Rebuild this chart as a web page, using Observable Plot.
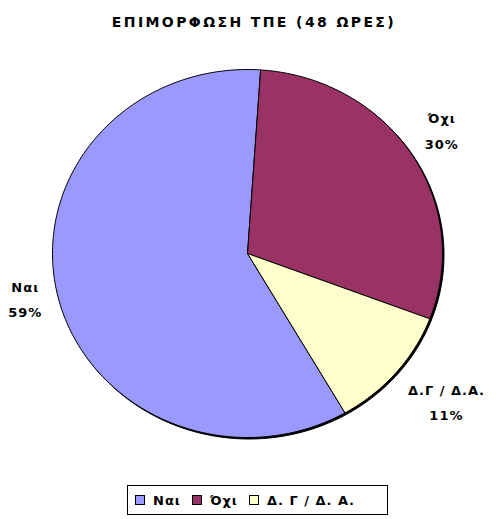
<!DOCTYPE html>
<html>
<head>
<meta charset="utf-8">
<script src="https://cdn.jsdelivr.net/npm/d3@7"></script>
<script src="https://cdn.jsdelivr.net/npm/@observablehq/plot@0.6"></script>
<style>
  html, body { margin: 0; padding: 0; background: #fff; }
  #wrap { position: relative; width: 500px; height: 519px; overflow: hidden; font-family: "DejaVu Sans", sans-serif; }
  #title { position: absolute; left: 4px; width: 500px; top: 14px; text-align: center; font-weight: bold; font-size: 14px; letter-spacing: 2.4px; color: #000; }
  #chart { position: absolute; left: 0; top: 45px; }
  #legend { position: absolute; left: 127px; top: 485px; width: 261px; height: 30px; border: 1px solid #000; box-sizing: border-box; display: flex; align-items: center; font-weight: bold; font-size: 13px; letter-spacing: 1px; }
  .item { display: flex; align-items: center; }
  .sw { width: 8px; height: 8px; border: 1px solid #000; margin: 0 8px 0 11px; }
  .item:first-child .sw { margin-left: 7px; }
</style>
</head>
<body>
<div id="wrap">
  <div id="title"></div>
  <div id="chart"></div>
  <div id="legend"></div>
</div>
<script>
const titleText = "ΕΠΙΜΟΡΦΩΣΗ ΤΠΕ (48 ΩΡΕΣ)";
const categories = ["Ναι", "Όχι", "Δ.Γ / Δ.Α."];
const values = [60, 30, 11];
const colors = ["#9999FF", "#993366", "#FFFFCC"];
const legendLabels = ["Ναι", "Όχι", "Δ. Γ / Δ. Α."];
const firstSliceAngle = 150; // degrees, clockwise from 12 o'clock

document.getElementById("title").textContent = titleText;

const data = categories.map((c, i) => ({cat: c, value: values[i]}));
const total = d3.sum(values);
const a0 = firstSliceAngle * Math.PI / 180;
const arcs = d3.pie().sort(null).value(d => d.value).startAngle(a0).endAngle(a0 + 2 * Math.PI)(data);

// polygon points for each slice (unit circle, x = sin, y = cos)
const pts = [];
arcs.forEach(a => {
  const n = Math.max(2, Math.ceil((a.endAngle - a.startAngle) * 180 / Math.PI));
  pts.push({cat: a.data.cat, x: 0, y: 0});
  for (let k = 0; k <= n; k++) {
    const t = a.startAngle + (a.endAngle - a.startAngle) * k / n;
    pts.push({cat: a.data.cat, x: Math.sin(t), y: Math.cos(t)});
  }
  pts.push({cat: a.data.cat, x: 0, y: 0});
});

// geometry
const W = 500, H = 430, cx = 247, cy = 208, rx = 195, ry = 184;
const FS = 13, LS = 1;

// label positions: box placed just outside the rim, extending outward
const ctx = document.createElement("canvas").getContext("2d");
ctx.font = "bold " + FS + "px 'DejaVu Sans'";
const tw = t => ctx.measureText(t).width + LS * t.length;
const clamp = v => Math.max(0, Math.min(1, v));
const labels = arcs.map(a => {
  const m = (a.startAngle + a.endAngle) / 2;
  const s = Math.sin(m), c = Math.cos(m);
  const txt = a.data.cat;
  const pct = Math.round(a.data.value / total * 100) + "%";
  const w = Math.max(tw(txt), tw(pct));
  const h = 45;
  const r = 1.08;
  const px = s * r * rx + Math.sign(s) * (w / 2) * clamp(Math.abs(s) * 2 - 0.4);
  const py = c * r * ry + Math.sign(c) * (h / 2) * clamp(Math.abs(c) * 2 - 0.4);
  return {cat: txt, label: txt + "\n" + pct, x: px / rx, y: py / ry};
});

const chart = Plot.plot({
  width: W,
  height: H,
  margin: 0,
  x: {domain: [-1, 1], range: [cx - rx, cx + rx], axis: null},
  y: {domain: [-1, 1], range: [cy + ry, cy - ry], axis: null},
  color: {domain: categories, range: colors},
  style: {background: "transparent", letterSpacing: LS + "px"},
  marks: [
    Plot.line(pts, {x: "x", y: "y", z: "cat", fill: "#000", stroke: "#000", strokeWidth: 1, dx: 1.5, dy: 1.5}),
    Plot.line(pts, {x: "x", y: "y", z: "cat", fill: "cat", stroke: "#000", strokeWidth: 1, strokeLinejoin: "round"}),
    Plot.text(labels, {x: "x", y: "y", text: "label", fontSize: FS, fontWeight: "bold", fill: "#000", lineHeight: 1.95, fontFamily: "DejaVu Sans", dy: -3})
  ]
});
document.getElementById("chart").appendChild(chart);

const legend = document.getElementById("legend");
legendLabels.forEach((l, i) => {
  const item = document.createElement("div");
  item.className = "item";
  const sw = document.createElement("div");
  sw.className = "sw";
  sw.style.background = colors[i];
  const t = document.createElement("span");
  t.textContent = l;
  item.appendChild(sw);
  item.appendChild(t);
  legend.appendChild(item);
});
</script>
</body>
</html>
